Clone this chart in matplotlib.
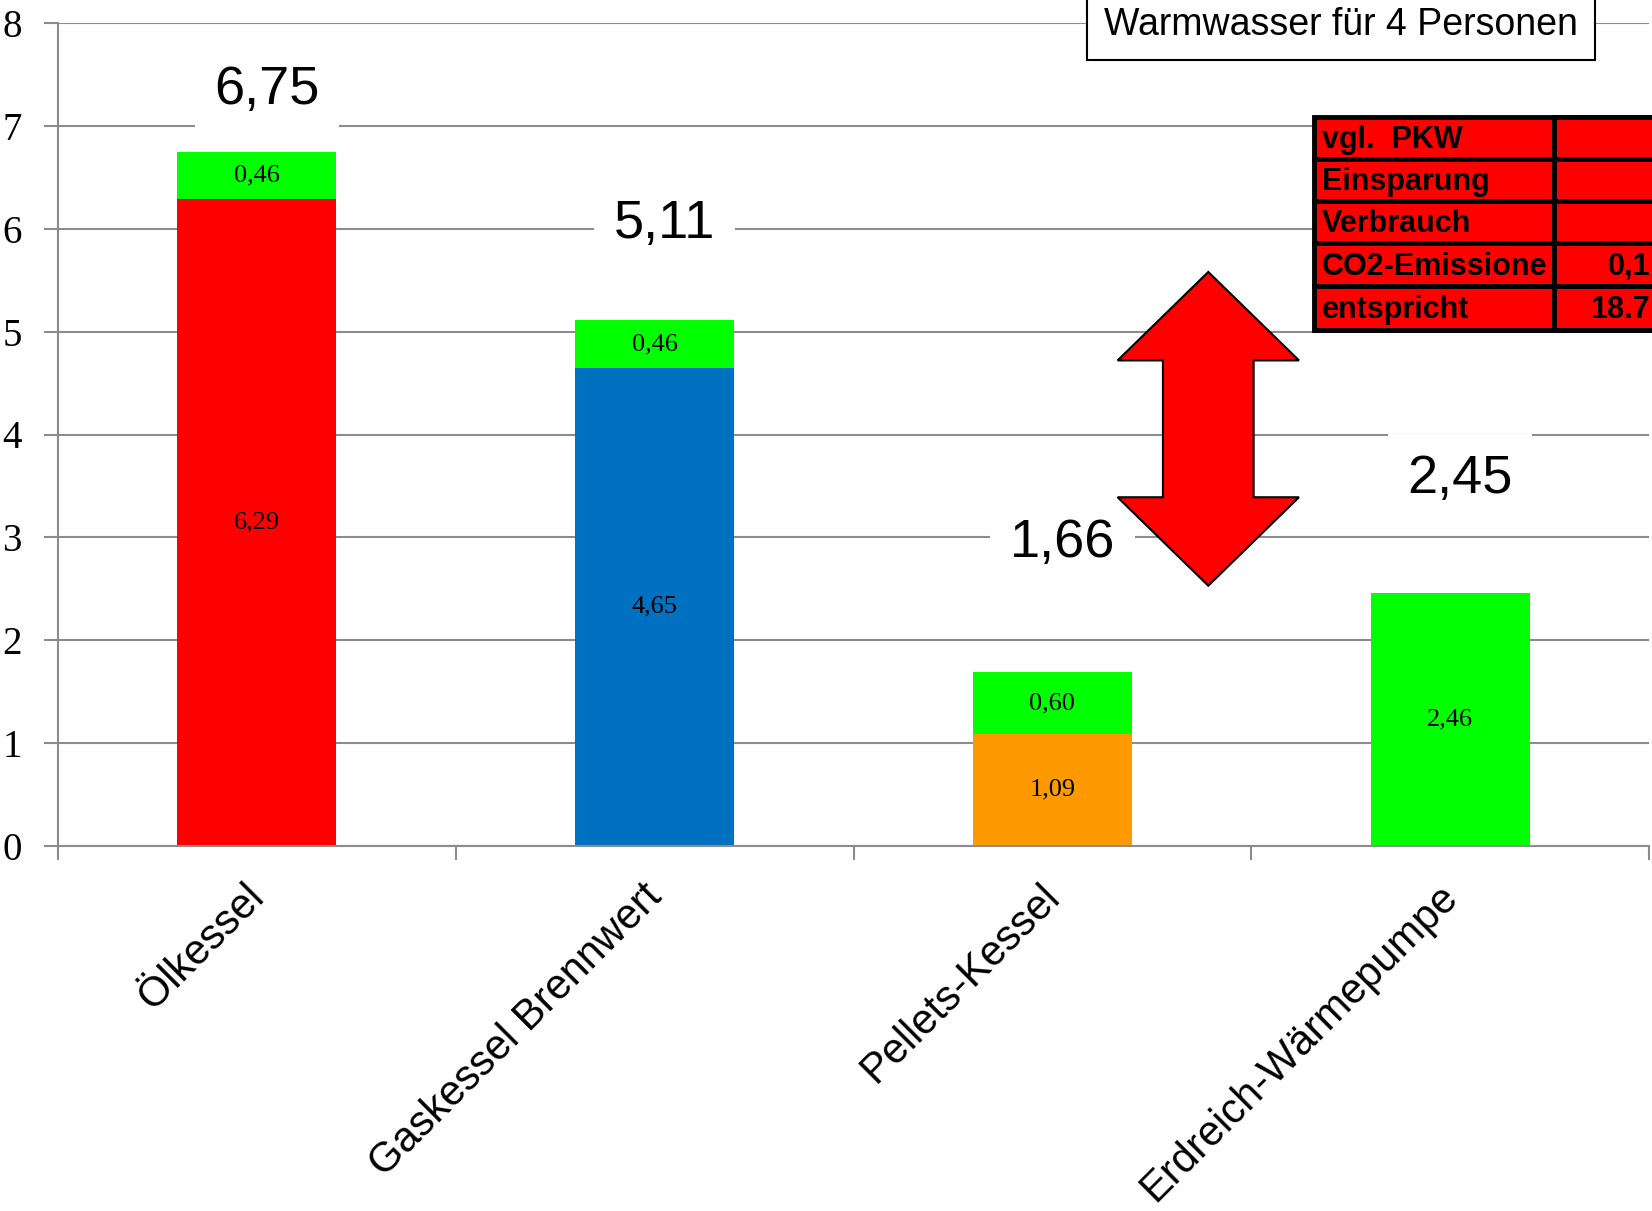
"""
Warmwasser für 4 Personen - stacked bars
"""
import matplotlib
matplotlib.use("Agg")
import matplotlib.pyplot as plt
from matplotlib.patches import Polygon, Rectangle
from matplotlib.transforms import ScaledTranslation

# ==========================================================
# Data
# ==========================================================
categories = ["Ölkessel", "Gaskessel Brennwert", "Pellets-Kessel", "Erdreich-Wärmepumpe"]
base_values = [6.29, 4.65, 1.09, 2.46]
base_labels = ["6,29", "4,65", "1,09", "2,46"]
base_colors = ["#FF0000", "#0070C0", "#FF9900", "#00FF00"]
top_values = [0.46, 0.46, 0.60, 0.0]
top_labels = ["0,46", "0,46", "0,60", ""]
totals = ["6,75", "5,11", "1,66", "2,45"]
total_label_y = [7.35, 6.05, 2.95, 3.57]

table_rows = ["vgl.  PKW", "Einsparung", "Verbrauch", "CO2-Emissione", "entspricht"]
table_vals = ["", "", "", "0,1", "18.7"]

W, H = 1652, 1211
fig = plt.figure(figsize=(W / 100, H / 100), dpi=100)
ax = fig.add_axes([58 / W, 1 - 846 / H, (1649 - 58) / W, (846 - 23) / H])

grid_col = "#8c8c8c"
x = range(len(categories))

ax.bar(x, base_values, width=0.4, color=base_colors, zorder=2)
ax.bar(x, top_values, width=0.4, bottom=base_values, color="#00FF00", zorder=2)

# segment labels
for i in x:
    ax.text(i, base_values[i] / 2, base_labels[i], ha="center", va="center",
            family="Liberation Serif", fontsize=19, zorder=3)
    if top_labels[i]:
        ax.text(i, base_values[i] + top_values[i] / 2, top_labels[i], ha="center",
                va="center", family="Liberation Serif", fontsize=19, zorder=3)
    ax.text(i + 0.025, total_label_y[i], totals[i], ha="center", va="center",
            family="Liberation Sans", fontsize=39, zorder=3,
            bbox=dict(facecolor="white", edgecolor="none", pad=14))

ax.set_xlim(-0.5, 3.5)
ax.set_ylim(0, 8)
ax.set_yticks(range(9))
ax.set_yticklabels([str(v) for v in range(9)], family="Liberation Serif", fontsize=28)
ax.set_xticks([i - 0.5 for i in range(5)])
ax.set_xticklabels([])
ax.set_xticks(list(x), minor=True)
ax.set_xticklabels(categories, minor=True, rotation=45, ha="right",
                   rotation_mode="anchor", family="Liberation Sans", fontsize=30)
ax.tick_params(axis="x", which="minor", length=0, pad=22)
ax.tick_params(axis="x", which="major", length=10, width=1.5, color=grid_col)
ax.tick_params(axis="y", length=10, width=1.5, color=grid_col, pad=16)
shift = ScaledTranslation(-0.13, 0, fig.dpi_scale_trans)
for lbl in ax.get_xticklabels(minor=True):
    lbl.set_transform(lbl.get_transform() + shift)

ax.yaxis.grid(True, color=grid_col, linewidth=1.5, zorder=0)
ax.set_axisbelow(True)
for side in ["top", "right"]:
    ax.spines[side].set_visible(False)
for side in ["left", "bottom"]:
    ax.spines[side].set_color(grid_col)
    ax.spines[side].set_linewidth(1.5)

# double arrow
arrow = Polygon(
    [(2.392, 5.58), (2.62, 4.72), (2.506, 4.72), (2.506, 3.39), (2.62, 3.39),
     (2.392, 2.53), (2.164, 3.39), (2.278, 3.39), (2.278, 4.72), (2.164, 4.72)],
    closed=True, facecolor="#FF0000", edgecolor="black", linewidth=1.5, zorder=4,
)
ax.add_patch(arrow)

# title box
fig.text(1341 / W, 1 - 25 / H, "Warmwasser für 4 Personen", ha="center", va="center",
         family="Liberation Sans", fontsize=27,
         bbox=dict(facecolor="white", edgecolor="black", linewidth=1.5,
                   boxstyle="square,pad=0.45"))

# table
row_edges = [117, 159, 201, 243, 286, 330]
x0, xs, x1 = 1314, 1554, 1700
for r, (lab, val) in enumerate(zip(table_rows, table_vals)):
    ya, yb = row_edges[r], row_edges[r + 1]
    fig.add_artist(Rectangle((x0 / W, 1 - yb / H), (x1 - x0) / W, (yb - ya) / H,
                             transform=fig.transFigure, facecolor="#FF0000",
                             edgecolor="black", linewidth=3.5))
    fig.add_artist(Rectangle((xs / W, 1 - yb / H), (x1 - xs) / W, (yb - ya) / H,
                             transform=fig.transFigure, facecolor="none",
                             edgecolor="black", linewidth=3.5))
    ym = 1 - (ya + yb) / 2 / H - 2 / H
    fig.text((x0 + 8) / W, ym, lab, ha="left", va="center", family="Liberation Sans",
             fontweight="bold", fontsize=22)
    if val:
        fig.text(1650 / W, ym, val, ha="right", va="center", family="Liberation Sans",
                 fontweight="bold", fontsize=22)

fig.savefig("out.png", dpi=100)
